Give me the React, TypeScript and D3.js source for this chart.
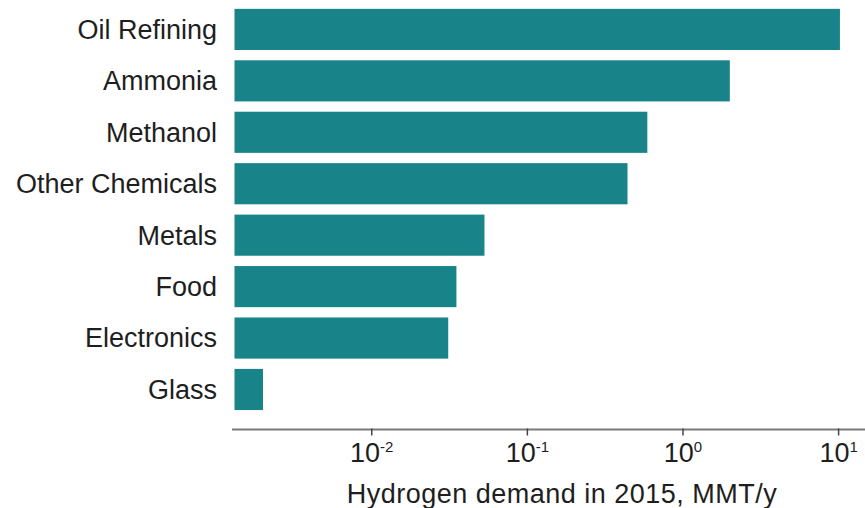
import React from "react";
import * as d3 from "d3";

// Hydrogen demand by sector, 2015 (million metric tonnes per year)
const sectors = [
  "Oil Refining",
  "Ammonia",
  "Methanol",
  "Other Chemicals",
  "Metals",
  "Food",
  "Electronics",
  "Glass",
];
const demand = [10.2, 2.0, 0.59, 0.44, 0.053, 0.035, 0.031, 0.002];
const tickExponents = [-2, -1, 0, 1];
const axisTitle = "Hydrogen demand in 2015, MMT/y";

const W = 865;
const H = 508;
const FONT = "'Liberation Sans', Arial, sans-serif";
const TEXT = "#1e1e1e";
const BAR = "#18848a";

export default function App() {
  const x = d3.scaleLog().domain([0.001312, 14.78]).range([234.5, 865]);
  const y = d3
    .scaleBand<string>()
    .domain(sectors)
    .range([3.7, 415.2])
    .paddingInner(0.2)
    .paddingOuter(0.1);

  const axisY = 429.5;
  const [x0, x1] = x.range();

  return (
    <svg
      width={W}
      height={H}
      style={{ position: "absolute", left: 0, top: 0, background: "#fff" }}
      fontFamily={FONT}
    >
      {/* bars */}
      {sectors.map((s, i) => (
        <rect
          key={s}
          x={x0}
          y={y(s)}
          width={x(demand[i]) - x0}
          height={y.bandwidth()}
          fill={BAR}
        />
      ))}

      {/* category labels */}
      {sectors.map((s) => (
        <text
          key={s}
          x={217}
          y={(y(s) ?? 0) + y.bandwidth() / 2}
          dy="0.35em"
          textAnchor="end"
          fontSize={27}
          fill={TEXT}
        >
          {s}
        </text>
      ))}

      {/* x axis */}
      <line x1={x0 - 2.5} x2={x1} y1={axisY} y2={axisY} stroke="#7a7a7a" strokeWidth={2} />
      {tickExponents.map((e) => {
        const tx = x(Math.pow(10, e));
        return (
          <g key={e} transform={`translate(${tx},0)`}>
            <line y1={axisY - 1} y2={axisY + 6} stroke="#444" strokeWidth={1.5} />
            <text y={461.5} textAnchor="middle" fontSize={27} fill={TEXT}>
              10
              <tspan fontSize={15} dy={-10}>
                {String(e)}
              </tspan>
            </text>
          </g>
        );
      })}
      <text
        x={562}
        y={503}
        textAnchor="middle"
        fontSize={27}
        letterSpacing={0.5}
        fill={TEXT}
      >
        {axisTitle}
      </text>
    </svg>
  );
}
